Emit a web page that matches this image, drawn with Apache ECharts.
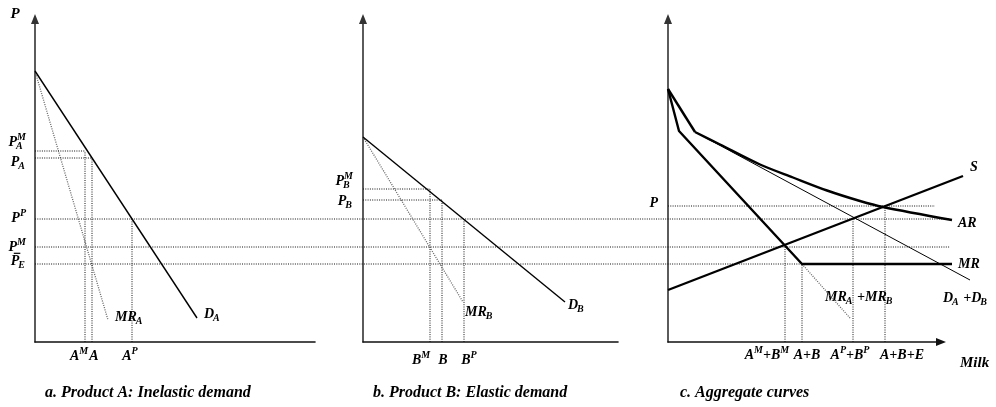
<!DOCTYPE html>
<html>
<head>
<meta charset="utf-8">
<script src="https://cdn.jsdelivr.net/npm/echarts@6/dist/echarts.min.js"></script>
<style>
  html, body { margin: 0; padding: 0; background: #fff; }
  #chart { width: 996px; height: 407px; }
</style>
</head>
<body>
<div id="chart"></div>
<script>
// price scale is shared by the three panels, quantities are per panel
const yMax = 32.3
const xMaxA = 28.0
const xMaxB = 25.5
const xMaxC = 27.3      // end of the drawn milk axis
const xRoomC = 30.4     // curves in panel c run past the axis end

// panel a: product A, inelastic demand
const demandA = [[0, 27.1], [16.2, 2.4]]
const marginalA = [[0, 27.1], [7.3, 2.2]]
const qtyA = [5.0, 5.7, 9.7]          // A^M, A, A^P
const qtyTopA = [19.1, 18.4, 12.3]    // P_A^M, P_A, P^P

// panel b: product B, elastic demand
const demandB = [[0, 20.5], [20.2, 4.0]]
const marginalB = [[0, 20.5], [10.0, 4.0]]
const qtyB = [6.7, 7.9, 10.1]         // B^M, B, B^P
const qtyTopB = [15.3, 14.2, 12.3]    // P_B^M, P_B, P^P

// prices drawn across all panels: P^P, P^M, P_E
const sharedPrices = [12.3, 9.5, 7.8]

// panel c: aggregate curves
const demandC = [[0, 25.3], [2.7, 21.0], [30.2, 6.2]]
const avgRevenue = [[0, 25.3], [2.7, 21.0], [5.2, 19.75], [9.2, 17.75], [12.5, 16.45],
  [15.9, 15.15], [19.2, 14.1], [21.5, 13.5], [28.4, 12.2]]
const margRevenue = [[0, 25.3], [1.1, 21.1], [13.4, 7.8], [28.4, 7.8]]
const margRevenueTail = [[13.4, 7.8], [18.2, 2.4]]
const supply = [[0, 5.2], [29.5, 16.6]]
const qtyC = [11.7, 13.4, 18.5, 21.7]      // A^M+B^M, A+B, A^P+B^P, A+B+E
const qtyTopC = [9.5, 7.8, 12.3, 13.6]
const priceC = [[0, 13.6], [26.7, 13.6]]   // P

// labels: [base, subscript, superscript, overbar]
const yLabelsA = [[['P', 'A', 'M']], [['P', 'A']], [['P', '', 'P']], [['P', '', 'M']], [['P', 'E', '', 1]]]
const yLabelsB = [[['P', 'B', 'M']], [['P', 'B']]]
const xLabelsA = [[['A', '', 'M']], [['A']], [['A', '', 'P']]]
const xLabelsB = [[['B', '', 'M']], [['B']], [['B', '', 'P']]]
const xLabelsC = [[['A', '', 'M'], ['+B', '', 'M']], [['A+B']], [['A', '', 'P'], ['+B', '', 'P']], [['A+B+E']]]

const chart = echarts.init(document.getElementById('chart'))

const solid = (w) => ({ color: '#000', width: w, type: 'solid' })
const dots = { color: '#111', width: 1, type: [1, 1.3] }
const greyDots = { color: '#666', width: 1.3, type: [1, 1.3] }

function line(data, idx, style, smooth) {
  return {
    type: 'line', xAxisIndex: idx, yAxisIndex: idx, data: data, smooth: smooth || false,
    symbol: 'none', silent: true, clip: false, animation: false, lineStyle: style
  }
}

const hidden = { axisTick: { show: false }, axisLabel: { show: false }, splitLine: { show: false } }
function xAxis(gridIndex, max, arrow, noLine) {
  return Object.assign({
    type: 'value', gridIndex, min: 0, max,
    axisLine: { show: !noLine, onZero: false, lineStyle: { color: '#111', width: 1.6 },
      symbol: arrow ? ['none', 'triangle'] : 'none', symbolSize: [8, 10] }
  }, hidden)
}
function yAxis(gridIndex, noLine) {
  return Object.assign({
    type: 'value', gridIndex, min: 0, max: yMax,
    axisLine: { show: !noLine, onZero: false, lineStyle: { color: '#333', width: 1.6 },
      symbol: ['none', 'triangle'], symbolSize: [8, 10] }
  }, hidden)
}

const series = []
// cross-panel price lines on the overlay grid
sharedPrices.forEach(p => series.push(line([[0, p], [1, p]], 3, dots)))

// panel a
series.push(line(marginalA, 0, greyDots))
qtyA.forEach((q, i) => {
  series.push(line([[q, 0], [q, qtyTopA[i]]], 0, dots))
  if (i < 2) series.push(line([[0, qtyTopA[i]], [q, qtyTopA[i]]], 0, dots))
})
series.push(line(demandA, 0, solid(1.4)))

// panel b
series.push(line(marginalB, 1, greyDots))
qtyB.forEach((q, i) => {
  series.push(line([[q, 0], [q, qtyTopB[i]]], 1, dots))
  if (i < 2) series.push(line([[0, qtyTopB[i]], [q, qtyTopB[i]]], 1, dots))
})
series.push(line(demandB, 1, solid(1.4)))

// panel c
series.push(line(priceC, 2, dots))
qtyC.forEach((q, i) => series.push(line([[q, 0], [q, qtyTopC[i]]], 2, dots)))
series.push(line(margRevenueTail, 2, greyDots))
series.push(line(demandC, 2, solid(1)))
series.push(line(avgRevenue.slice(0, 2), 2, solid(2.4)))
series.push(line(avgRevenue.slice(1), 2, solid(2.4), 0.3))
series.push(line(margRevenue, 2, solid(2.4)))
series.push(line(supply, 2, solid(2.4)))

chart.setOption({
  backgroundColor: '#fff',
  animation: false,
  grid: [
    { left: 35, top: 19, width: 280, height: 323 },
    { left: 363, top: 19, width: 255, height: 323 },
    { left: 668, top: 19, width: 304, height: 323 },
    { left: 35, top: 19, width: 915, height: 323 },
    { left: 668, top: 19, width: 273, height: 323 }
  ],
  xAxis: [xAxis(0, xMaxA), xAxis(1, xMaxB), xAxis(2, xRoomC, false, true),
    { type: 'value', gridIndex: 3, min: 0, max: 1, show: false },
    xAxis(4, xMaxC, true)],
  yAxis: [yAxis(0), yAxis(1), yAxis(2),
    { type: 'value', gridIndex: 3, min: 0, max: yMax, show: false },
    yAxis(4, true)],
  series
})

// ---- text labels (sub/superscripts built from several text pieces) ----
const ctx = document.createElement('canvas').getContext('2d')
const font = (s) => 'italic bold ' + s + 'px "Liberation Serif", "Times New Roman", serif'
function tw(s, size) {
  if (!s) return 0
  ctx.font = font(size)
  return ctx.measureText(s).width
}
function mathLabel(parts, x, y, align, size) {
  size = size || 14
  const small = Math.round(size * 0.68)
  const widths = parts.map(p => tw(p[0], size) + Math.max(tw(p[1], small), tw(p[2], small)))
  const total = widths.reduce((a, b) => a + b, 0)
  let cx = align === 'right' ? x - total : align === 'center' ? x - total / 2 : x
  const out = []
  parts.forEach((p, i) => {
    const wb = tw(p[0], size)
    out.push({ type: 'text', x: cx, y, silent: true,
      style: { text: p[0], font: font(size), fill: '#000', align: 'left', verticalAlign: 'middle' } })
    if (p[3]) out.push({ type: 'line', silent: true,
      shape: { x1: cx + 3, y1: y - size * 0.55, x2: cx + wb + 1, y2: y - size * 0.55 },
      style: { stroke: '#000', lineWidth: 1.2 } })
    if (p[2]) out.push({ type: 'text', x: cx + wb, y: y - size * 0.3, silent: true,
      style: { text: p[2], font: font(small), fill: '#000', align: 'left', verticalAlign: 'middle' } })
    if (p[1]) out.push({ type: 'text', x: cx + wb - 1, y: y + size * 0.32, silent: true,
      style: { text: p[1], font: font(small), fill: '#000', align: 'left', verticalAlign: 'middle' } })
    cx += widths[i]
  })
  return out
}
const px = (idx, pt) => chart.convertToPixel({ xAxisIndex: idx, yAxisIndex: idx }, pt)

let g = []
// price labels left of the axes
const yDyA = [-9, 4, -1, 0, -3]
const yValsA = [qtyTopA[0], qtyTopA[1]].concat(sharedPrices)
yLabelsA.forEach((lab, i) => {
  const p = px(0, [0, yValsA[i]])
  g = g.concat(mathLabel(lab, p[0] - 9, p[1] + yDyA[i], 'right'))
})
const yDyB = [-8, 1]
yLabelsB.forEach((lab, i) => {
  const p = px(1, [0, qtyTopB[i]])
  g = g.concat(mathLabel(lab, p[0] - 10, p[1] + yDyB[i], 'right'))
})
let p = px(2, priceC[0])
g = g.concat(mathLabel([['P']], p[0] - 10, p[1] - 3, 'right'))
p = px(0, [0, yMax])
g = g.concat(mathLabel([['P']], p[0] - 20, p[1] - 5, 'center', 15))

// quantity labels under the axes
const xDxA = [-6, 2, -2]
xLabelsA.forEach((lab, i) => {
  const q = px(0, [qtyA[i], 0])
  g = g.concat(mathLabel(lab, q[0] + xDxA[i], q[1] + 14, 'center'))
})
const xDxB = [-9, 1, 5]
xLabelsB.forEach((lab, i) => {
  const q = px(1, [qtyB[i], 0])
  g = g.concat(mathLabel(lab, q[0] + xDxB[i], q[1] + 18, 'center'))
})
const xDxC = [-18, 5, -3, 17]
xLabelsC.forEach((lab, i) => {
  const q = px(2, [qtyC[i], 0])
  g = g.concat(mathLabel(lab, q[0] + xDxC[i], q[1] + 13, 'center'))
})

// curve names
const last = (a) => a[a.length - 1]
p = px(0, last(demandA)); g = g.concat(mathLabel([['D', 'A']], p[0] + 7, p[1] - 4, 'left'))
p = px(0, last(marginalA)); g = g.concat(mathLabel([['MR', 'A']], p[0] + 7, p[1] - 3, 'left'))
p = px(1, last(demandB)); g = g.concat(mathLabel([['D', 'B']], p[0] + 3, p[1] + 3, 'left'))
p = px(1, last(marginalB)); g = g.concat(mathLabel([['MR', 'B']], p[0] + 2, p[1] + 10, 'left'))
p = px(2, last(supply)); g = g.concat(mathLabel([['S']], p[0] + 7, p[1] - 9, 'left'))
p = px(2, last(avgRevenue)); g = g.concat(mathLabel([['AR']], p[0] + 6, p[1] + 3, 'left'))
p = px(2, last(margRevenue)); g = g.concat(mathLabel([['MR']], p[0] + 6, p[1], 'left'))
p = px(2, last(demandC)); g = g.concat(mathLabel([['D', 'A'], [' +D', 'B']], p[0] - 27, p[1] + 18, 'left'))
p = px(2, last(margRevenueTail)); g = g.concat(mathLabel([['MR', 'A'], [' +MR', 'B']], p[0] - 25, p[1] - 21, 'left'))
p = px(4, [xMaxC, 0]); g = g.concat(mathLabel([['Milk']], p[0] + 19, p[1] + 21, 'left', 15))

// captions
const captions = ['a. Product A: Inelastic demand', 'b. Product B: Elastic demand', 'c. Aggregate curves']
const capLeft = [45, 373, 680]
captions.forEach((c, i) => g.push({ type: 'text', x: capLeft[i], y: 393, silent: true,
  style: { text: c, font: font(16), fill: '#000', align: 'left', verticalAlign: 'middle' } }))

chart.setOption({ graphic: { elements: g } })
</script>
</body>
</html>
